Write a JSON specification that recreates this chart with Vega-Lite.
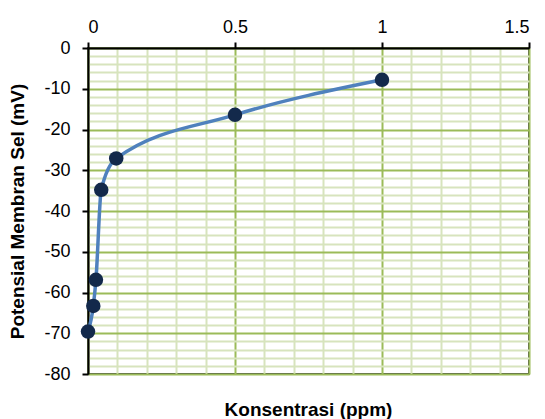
{
  "$schema": "https://vega.github.io/schema/vega-lite/v6.json",
  "autosize": {"type": "none"},
  "width": 441,
  "height": 326,
  "padding": {"left": 88, "top": 48, "right": 16, "bottom": 45},
  "background": "white",
  "title": {"text": "Konsentrasi (ppm)", "orient": "bottom", "anchor": "middle", "font": "Liberation Sans", "fontSize": 19, "fontWeight": "bold", "color": "black", "offset": 18},
  "config": {
    "view": {"stroke": "black", "strokeWidth": 1.5},
    "axis": {"labelFont": "Liberation Sans", "titleFont": "Liberation Sans", "labelFontSize": 18, "labelColor": "black", "domainColor": "black", "domainWidth": 2, "tickWidth": 2, "tickSize": 6, "gridWidth": 2}
  },
  "data": {"values": [
    {"x": 0, "y": -69.6},
    {"x": 0.018, "y": -63.3},
    {"x": 0.027, "y": -56.9},
    {"x": 0.045, "y": -34.8},
    {"x": 0.096, "y": -27.1},
    {"x": 0.5, "y": -16.4},
    {"x": 1, "y": -7.8}
  ]},
  "encoding": {
    "x": {"field": "x", "type": "quantitative", "scale": {"domain": [0, 1.5], "nice": false, "zero": false},
      "axis": {"orient": "top", "title": null, "values": [0, 0.1, 0.2, 0.3, 0.4, 0.5, 0.6, 0.7, 0.8, 0.9, 1, 1.1, 1.2, 1.3, 1.4, 1.5],
        "labelExpr": "abs(datum.value*2 - round(datum.value*2)) < 1e-6 ? '' + datum.value : ''",
        "labelPadding": 6,
        "grid": true,
        "gridColor": {"condition": {"test": "abs(datum.value*2 - round(datum.value*2)) < 1e-6", "value": "#9BBB59"}, "value": "#D7E4BD"},
        "tickColor": {"condition": {"test": "abs(datum.value*2 - round(datum.value*2)) < 1e-6", "value": "black"}, "value": "transparent"}
      }},
    "y": {"field": "y", "type": "quantitative", "scale": {"domain": [-80, 0], "nice": false, "zero": false},
      "axis": {"title": "Potensial Membran Sel (mV)", "titleFontSize": 19, "titleFontWeight": "bold", "titleColor": "black", "titlePadding": 16,
        "values": [-80, -78, -76, -74, -72, -70, -68, -66, -64, -62, -60, -58, -56, -54, -52, -50, -48, -46, -44, -42, -40, -38, -36, -34, -32, -30, -28, -26, -24, -22, -20, -18, -16, -14, -12, -10, -8, -6, -4, -2, 0],
        "labelExpr": "datum.value % 10 === 0 ? '' + datum.value : ''",
        "labelPadding": 12,
        "grid": true,
        "gridColor": {"condition": {"test": "datum.value % 10 === 0", "value": "#9BBB59"}, "value": "#D7E4BD"},
        "tickColor": {"condition": {"test": "datum.value % 10 === 0", "value": "black"}, "value": "transparent"}
      }}
  },
  "layer": [
    {"mark": {"type": "line", "interpolate": "monotone", "color": "#4F81BD", "strokeWidth": 3.5}},
    {"mark": {"type": "point", "filled": true, "size": 210, "color": "#13294B", "opacity": 1}}
  ]
}
